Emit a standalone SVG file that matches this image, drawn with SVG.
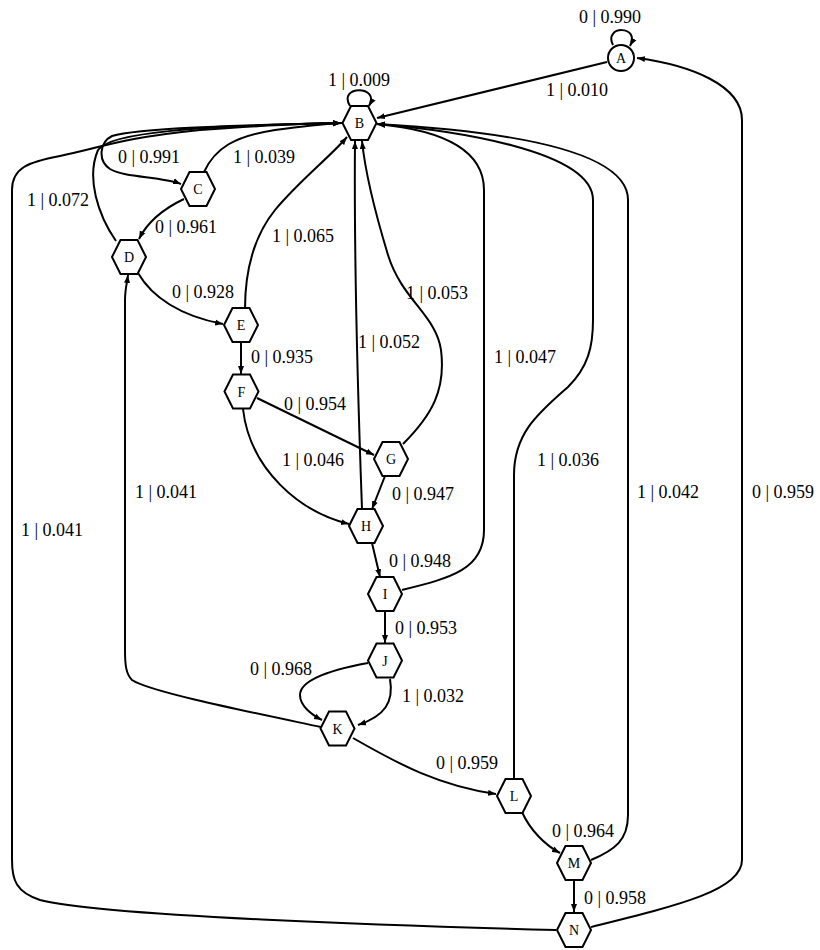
<svg xmlns="http://www.w3.org/2000/svg" width="820" height="950" viewBox="0 0 820 950">
<style>
.n{fill:#fff;stroke:#000;stroke-width:2}
.nt{font-family:"Liberation Serif","Times New Roman",serif;font-size:14px;text-anchor:middle;fill:#000}
.e{fill:none;stroke:#000;stroke-width:2;marker-end:url(#ah)}
.el{font-family:"Liberation Serif","Times New Roman",serif;font-size:18px;text-anchor:middle;fill:#000}
</style>
<defs>
<marker id="ah" markerUnits="userSpaceOnUse" markerWidth="9" markerHeight="7" refX="8" refY="3.5" orient="auto">
<path d="M0,0.5 L8,3.5 L0,6.5 z" fill="#000"/>
</marker>
<polygon id="hex" points="-17,0 -8.5,-17 8.5,-17 17,0 8.5,17 -8.5,17"/>
</defs>
<rect width="820" height="950" fill="#fff"/>
<g id="connectors">
<path class="e" d="M613,45 C603,25 641,25 630,46"/>
<path class="e" d="M607,62 L377,118"/>
<path class="e" d="M350,106 C337,85 381,85 369,106"/>
<path class="e" d="M342,123 C260,125 140,127 112,136 C100,142 97,160 110,169 C125,178 160,176 181,184"/>
<path class="e" d="M204,172 C215,148 235,136 275,130 C305,126 325,124 341,123"/>
<path class="e" d="M184,199 C165,208 148,221 139,239"/>
<path class="e" d="M116,241 C98,215 86,178 98,150 C110,132 200,126 341,123"/>
<path class="e" d="M138,273 C152,297 180,316 223,324"/>
<path class="e" d="M245,309 C245,270 255,235 275,210 C300,180 330,157 347,137"/>
<path class="e" d="M241,342 L241,374"/>
<path class="e" d="M257,398 L374,455"/>
<path class="e" d="M243,409 C250,470 300,512 349,524"/>
<path class="e" d="M403,444 C432,415 446,390 441,350 C436,315 402,300 388,255 C378,222 366,180 362,141"/>
<path class="e" d="M385,476 L372,509"/>
<path class="e" d="M362,509 C358,400 354,250 355,141"/>
<path class="e" d="M372,543 L380,577"/>
<path class="e" d="M402,590 C450,578 484,570 484,530 L484,190 C484,140 420,128 377,124"/>
<path class="e" d="M385,611 L385,643"/>
<path class="e" d="M368,663 C330,670 300,680 300,695 C300,706 312,715 322,720"/>
<path class="e" d="M390,679 C394,702 385,716 358,725"/>
<path class="e" d="M321,727 C250,712 150,692 132,680 C126,674 125,665 125,650 L125,300 C125,290 127,283 128,275"/>
<path class="e" d="M353,738 C400,765 440,786 496,794"/>
<path class="e" d="M514,779 L514,475 C514,432 540,412 568,387 C588,367 593,347 593,320 L593,200 C593,150 450,130 377,124"/>
<path class="e" d="M522,812 C530,830 545,845 560,853"/>
<path class="e" d="M591,860 C615,850 628,840 628,815 L628,200 C628,140 450,128 377,124"/>
<path class="e" d="M574,880 L574,912"/>
<path class="e" d="M556,930 C400,926 100,916 40,900 C16,892 12,880 12,860 L12,190 C12,168 28,162 60,156 C100,148 120,138 200,130 C270,125 320,123 341,123"/>
<path class="e" d="M591,927 C680,905 742,890 742,860 L742,120 C742,85 690,65 637,58"/>
</g>
<g id="edge-labels">
<text class="el" x="610" y="23">0 | 0.990</text>
<text class="el" x="577" y="96">1 | 0.010</text>
<text class="el" x="359" y="86">1 | 0.009</text>
<text class="el" x="149" y="163">0 | 0.991</text>
<text class="el" x="264" y="163">1 | 0.039</text>
<text class="el" x="58" y="206">1 | 0.072</text>
<text class="el" x="186" y="233">0 | 0.961</text>
<text class="el" x="303" y="242">1 | 0.065</text>
<text class="el" x="203" y="298">0 | 0.928</text>
<text class="el" x="437" y="299">1 | 0.053</text>
<text class="el" x="389" y="348">1 | 0.052</text>
<text class="el" x="282" y="363">0 | 0.935</text>
<text class="el" x="525" y="363">1 | 0.047</text>
<text class="el" x="315" y="410">0 | 0.954</text>
<text class="el" x="313" y="466">1 | 0.046</text>
<text class="el" x="568" y="466">1 | 0.036</text>
<text class="el" x="166" y="498">1 | 0.041</text>
<text class="el" x="668" y="498">1 | 0.042</text>
<text class="el" x="783" y="498">0 | 0.959</text>
<text class="el" x="423" y="500">0 | 0.947</text>
<text class="el" x="52" y="536">1 | 0.041</text>
<text class="el" x="420" y="567">0 | 0.948</text>
<text class="el" x="426" y="634">0 | 0.953</text>
<text class="el" x="281" y="675">0 | 0.968</text>
<text class="el" x="433" y="702">1 | 0.032</text>
<text class="el" x="467" y="769">0 | 0.959</text>
<text class="el" x="583" y="837">0 | 0.964</text>
<text class="el" x="615" y="904">0 | 0.958</text>
</g>
<g id="A"><circle class="n" cx="621" cy="58" r="13"/><text class="nt" x="621" y="63">A</text></g>
<g id="B"><use href="#hex" class="n" x="359.5" y="123"/><text class="nt" x="359.5" y="128">B</text></g>
<g id="C"><use href="#hex" class="n" x="198" y="189"/><text class="nt" x="198" y="194">C</text></g>
<g id="D"><use href="#hex" class="n" x="129" y="257"/><text class="nt" x="129" y="262">D</text></g>
<g id="E"><use href="#hex" class="n" x="241" y="325"/><text class="nt" x="241" y="330">E</text></g>
<g id="F"><use href="#hex" class="n" x="241.5" y="391.5"/><text class="nt" x="241.5" y="396.5">F</text></g>
<g id="G"><use href="#hex" class="n" x="391" y="459"/><text class="nt" x="391" y="464">G</text></g>
<g id="H"><use href="#hex" class="n" x="366" y="526"/><text class="nt" x="366" y="531">H</text></g>
<g id="I"><use href="#hex" class="n" x="385" y="594"/><text class="nt" x="385" y="599">I</text></g>
<g id="J"><use href="#hex" class="n" x="385" y="660.5"/><text class="nt" x="385" y="665.5">J</text></g>
<g id="K"><use href="#hex" class="n" x="337.5" y="728.5"/><text class="nt" x="337.5" y="733.5">K</text></g>
<g id="L"><use href="#hex" class="n" x="514" y="796"/><text class="nt" x="514" y="801">L</text></g>
<g id="M"><use href="#hex" class="n" x="574" y="863"/><text class="nt" x="574" y="868">M</text></g>
<g id="N"><use href="#hex" class="n" x="574" y="930"/><text class="nt" x="574" y="935">N</text></g>
</svg>
